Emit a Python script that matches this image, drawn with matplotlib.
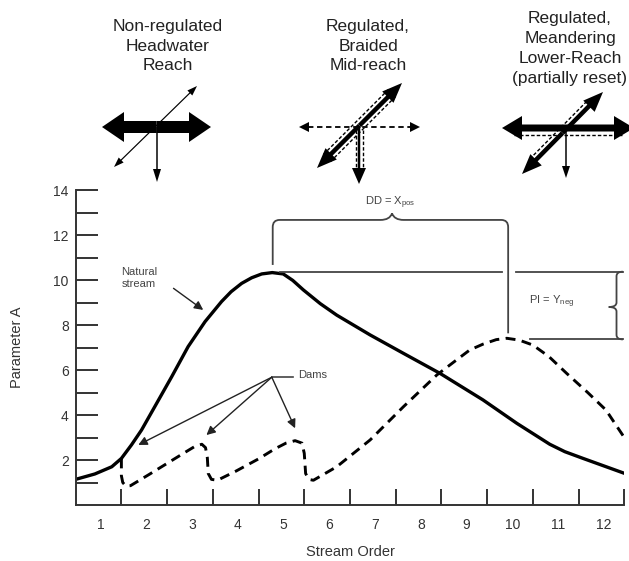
import numpy as np
import matplotlib.pyplot as plt
from matplotlib.patches import FancyArrow, PathPatch
from matplotlib.path import Path

plt.rcParams['font.family'] = ['Liberation Sans', 'DejaVu Sans']
plt.rcParams['mathtext.fontset'] = 'custom'
plt.rcParams['mathtext.rm'] = 'Liberation Sans'
plt.rcParams['mathtext.it'] = 'Liberation Sans:italic'

# --- data ---
stream_order = list(range(1, 13))
y_tick_values = list(range(1, 15))

natural_x = [0.0, 0.42, 0.79, 1.0, 1.22, 1.44, 1.73, 2.1, 2.46, 2.83, 3.19,
             3.4, 3.63, 3.85, 4.07, 4.3, 4.54, 4.75, 4.98, 5.35, 5.71, 6.44,
             7.17, 7.97, 8.91, 9.65, 10.37, 10.7, 11.1, 12.0]
natural_y = [1.14, 1.38, 1.70, 2.07, 2.67, 3.33, 4.37, 5.7, 7.04, 8.15, 9.04,
             9.48, 9.85, 10.1, 10.27, 10.33, 10.27, 9.98, 9.56, 8.95, 8.44,
             7.56, 6.74, 5.85, 4.67, 3.63, 2.7, 2.37, 2.07, 1.41]

regulated_x = [1.0, 1.0, 1.03, 1.1, 1.2, 1.6, 2.0, 2.4, 2.62, 2.76, 2.84,
               2.88, 2.9, 2.97, 3.1, 3.5, 4.0, 4.36, 4.6, 4.8, 4.95, 5.0,
               5.03, 5.1, 5.2, 5.71, 6.44, 7.17, 7.9, 8.3, 8.62, 8.91, 9.2,
               9.43, 9.7, 10.0, 10.35, 10.74, 11.2, 11.6, 12.0]
regulated_y = [2.07, 1.3, 1.0, 0.84, 0.86, 1.35, 1.85, 2.35, 2.62, 2.7, 2.55,
               2.1, 1.4, 1.14, 1.1, 1.5, 2.05, 2.5, 2.75, 2.86, 2.75, 2.3,
               1.4, 1.14, 1.1, 1.7, 2.89, 4.37, 5.78, 6.4, 6.89, 7.15, 7.35,
               7.41, 7.33, 7.11, 6.6, 5.85, 5.0, 4.22, 3.0]

natural_peak = (4.31, 10.37)
regulated_peak = (9.46, 7.36)
dams_origin = (4.29, 5.68)
dam_targets = [(1.37, 2.67), (2.86, 3.11), (4.8, 3.41)]

panel_titles = ["Non-regulated\nHeadwater\nReach",
                "Regulated,\nBraided\nMid-reach",
                "Regulated,\nMeandering\nLower-Reach\n(partially reset)"]

INK = '#222222'
GREY = '#444444'

fig = plt.figure(figsize=(6.29, 5.61), dpi=100)
ax = fig.add_axes([0.1203, 0.0998, 0.8722, 0.5615])

ax.plot(natural_x, natural_y, color='black', lw=2.4, solid_capstyle='round',
        solid_joinstyle='round')
ax.plot(regulated_x, regulated_y, color='black', lw=2.1,
        linestyle=(0, (3.4, 2.2)))

ax.set_xlim(0, 12)
ax.set_ylim(0, 14)
for s in ['top', 'right']:
    ax.spines[s].set_visible(False)
for s in ['left', 'bottom']:
    ax.spines[s].set_linewidth(1.4)
    ax.spines[s].set_color('#333333')

ax.set_yticks(y_tick_values)
ax.set_yticklabels([str(v) if v % 2 == 0 else '' for v in y_tick_values])
ax.tick_params(axis='y', direction='in', length=16, width=1.4,
               color='#333333', labelsize=10, labelcolor='#333333', pad=5)
ax.set_xticks(stream_order)
ax.set_xticklabels([])
ax.tick_params(axis='x', which='major', direction='in', length=11.5,
               width=1.4, color='#333333')
ax.set_xticks([k - 0.45 for k in stream_order], minor=True)
ax.set_xticklabels([str(k) for k in stream_order], minor=True)
ax.tick_params(axis='x', which='minor', length=0, labelsize=10,
               labelcolor='#333333', pad=9)

ax.set_xlabel('Stream Order', fontsize=10.5, color='#333333', labelpad=10)
ax.set_ylabel('Parameter A', fontsize=10.5, color='#333333', labelpad=21)

# DD bracket above the two peaks
xl, xr = natural_peak[0], regulated_peak[0]
yb = 12.67
bm = 6.92
verts = [(xl, 10.67), (xl, 12.35), (xl, yb), (xl + 0.15, yb),
         (bm - 0.25, yb), (bm - 0.05, yb), (bm, yb + 0.29),
         (bm + 0.05, yb), (bm + 0.25, yb),
         (xr - 0.15, yb), (xr, yb), (xr, 12.35), (xr, 7.63)]
codes = [Path.MOVETO, Path.LINETO, Path.CURVE3, Path.CURVE3,
         Path.LINETO, Path.CURVE3, Path.CURVE3, Path.CURVE3, Path.CURVE3,
         Path.LINETO, Path.CURVE3, Path.CURVE3, Path.LINETO]
ax.add_patch(PathPatch(Path(verts, codes), fill=False, ec=GREY, lw=1.3))
ax.text(bm - 0.05, 13.42, r'DD = X$_{\mathrm{pos}}$', fontsize=8,
        color=GREY, ha='center', va='center')

# peak level lines and PI brace
ax.plot([4.47, 9.32], [natural_peak[1]] * 2, color=GREY, lw=1.3)
ax.plot([9.63, 11.98], [natural_peak[1]] * 2, color=GREY, lw=1.3)
ax.plot([9.94, 11.98], [regulated_peak[1]] * 2, color=GREY, lw=1.3)
bx, yt, ybt = 11.83, natural_peak[1], regulated_peak[1]
ym = 8.8
verts = [(11.97, yt), (bx, yt), (bx, yt - 0.2), (bx, ym + 0.2),
         (bx, ym), (bx - 0.17, ym), (bx, ym), (bx, ym - 0.2),
         (bx, ybt + 0.2), (bx, ybt), (11.97, ybt)]
codes = [Path.MOVETO, Path.CURVE3, Path.CURVE3, Path.LINETO,
         Path.CURVE3, Path.CURVE3, Path.CURVE3, Path.CURVE3,
         Path.LINETO, Path.CURVE3, Path.CURVE3]
ax.add_patch(PathPatch(Path(verts, codes), fill=False, ec=GREY, lw=1.3,
                       clip_on=False))
ax.text(10.4, 9.02, r'PI = Y$_{\mathrm{neg}}$', fontsize=8, color=GREY,
        ha='center', va='center')

# annotations
ax.text(1.0, 10.1, 'Natural\nstream', fontsize=8, color=GREY, ha='left',
        va='center', linespacing=1.3)
arrow_kw = dict(arrowstyle='-|>', mutation_scale=13, lw=1.0, color=INK,
                shrinkA=0, shrinkB=0)
ax.annotate('', xy=(2.79, 8.67), xytext=(2.14, 9.63), arrowprops=arrow_kw)
ax.plot([dams_origin[0], 4.76], [dams_origin[1] + 0.03] * 2, color=GREY,
        lw=1.2)
ax.text(4.87, 5.78, 'Dams', fontsize=8, color=GREY, ha='left', va='center')
for tgt in dam_targets:
    ax.annotate('', xy=tgt, xytext=dams_origin, arrowprops=arrow_kw)

# --- pictograms above the chart (pixel coordinates) ---
ov = fig.add_axes([0, 0, 1, 1], zorder=-1)
ov.set_xlim(0, 629)
ov.set_ylim(561, 0)
ov.axis('off')


def arrow(p0, p1, width, head_w, head_l):
    ov.add_patch(FancyArrow(p0[0], p0[1], p1[0] - p0[0], p1[1] - p0[1],
                            width=width, head_width=head_w,
                            head_length=head_l, length_includes_head=True,
                            color='black', lw=0))


def double_arrow(p0, p1, width, head_w, head_l):
    mid = ((p0[0] + p1[0]) / 2, (p0[1] + p1[1]) / 2)
    arrow(mid, p0, width, head_w, head_l)
    arrow(mid, p1, width, head_w, head_l)


def side_dash(p0, p1, off, trim, lw=1.0):
    a = np.array(p0, float)
    b = np.array(p1, float)
    d = b - a
    u = d / np.hypot(*d)
    n = np.array([-u[1], u[0]])
    s = a + u * trim + n * off
    e = b - u * trim + n * off
    ov.plot([s[0], e[0]], [s[1], e[1]], color='black', lw=lw,
            linestyle=(0, (2.5, 1.5)))


# panel 1
double_arrow((102, 127), (211, 127), 12, 30, 22)
double_arrow((114, 167), (197, 86), 1.2, 7, 10)
arrow((157, 127), (157, 182), 1.5, 8, 13)

# panel 2
ov.plot([308, 411], [127, 127], color='black', lw=1.3,
        linestyle=(0, (3, 2)))
arrow((310, 127), (299, 127), 0.5, 10, 10)
arrow((409, 127), (420, 127), 0.5, 10, 10)
double_arrow((317, 168), (402, 83), 4.5, 16, 20)
side_dash((317, 168), (402, 83), 5, 14)
side_dash((317, 168), (402, 83), -5, 14)
arrow((359, 128), (359, 184), 2.5, 14, 16)
ov.plot([355.5, 355.5], [130, 170], color='black', lw=1.0,
        linestyle=(0, (2.5, 1.5)))
ov.plot([362.5, 362.5], [130, 170], color='black', lw=1.0,
        linestyle=(0, (2.5, 1.5)))

# panel 3
double_arrow((502, 128), (634, 128), 7, 24, 20)
ov.plot([514, 622], [134.5, 134.5], color='black', lw=1.0,
        linestyle=(0, (2.5, 1.5)))
double_arrow((522, 174), (603, 92), 4.5, 16, 20)
side_dash((522, 174), (603, 92), -5, 16)
arrow((566, 132), (566, 178), 1.5, 8, 12)

for cx, cy, title in zip([168, 368, 570], [46, 46, 48.5], panel_titles):
    ov.text(cx, cy, title, fontsize=12.5, color=INK, ha='center',
            va='center', linespacing=1.4)

fig.savefig('out.png', dpi=100)
